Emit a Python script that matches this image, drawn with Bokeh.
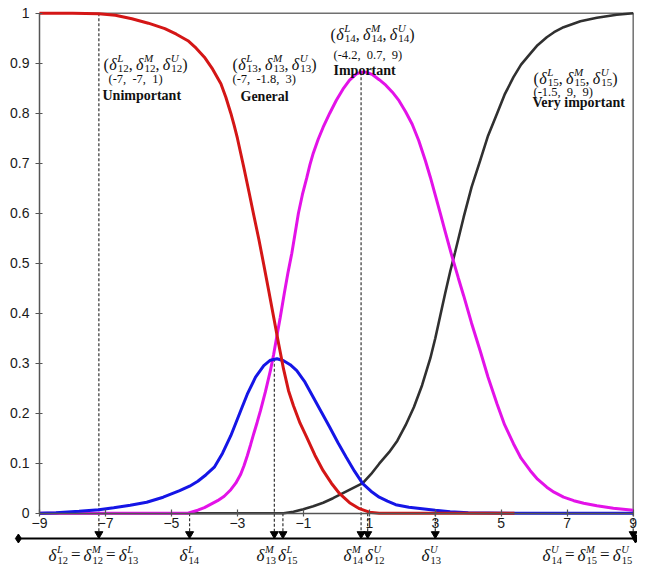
from bokeh.plotting import figure
from bokeh.models import LinearAxis, FixedTicker
from bokeh.core.properties import value
from bokeh.embed import file_html
from bokeh.resources import INLINE

# ---------------- data ----------------
x_ticks = [-9, -7, -5, -3, -1, 1, 3, 5, 7, 9]
y_ticks = [0.0, 0.1, 0.2, 0.3, 0.4, 0.5, 0.6, 0.7, 0.8, 0.9, 1.0]
y_tick_labels = ["0", "0.1", "0.2", "0.3", "0.4", "0.5", "0.6", "0.7", "0.8", "0.9", "1"]

# Unimportant (-7, -7, 1)
red_x = [-9, -8, -7.2, -6.7, -6.2, -5.7, -5.2, -4.85, -4.5, -4.25, -4.0, -3.75, -3.5, -3.35,
         -3.2, -3.1, -3.0, -2.9, -2.8, -2.65, -2.5, -2.35, -2.2, -2.05, -1.9, -1.75, -1.6,
         -1.45, -1.3, -1.1, -0.9, -0.65, -0.4, -0.15, 0.1, 0.4, 0.7, 1.0, 1.3, 5.4]
red_y = [1.0, 1.0, 0.999, 0.996, 0.989, 0.980, 0.969, 0.958, 0.945, 0.930, 0.912, 0.888, 0.859, 0.832,
         0.80, 0.776, 0.75, 0.72, 0.69, 0.643, 0.595, 0.548, 0.497, 0.445, 0.392, 0.339, 0.288,
         0.245, 0.215, 0.180, 0.152, 0.116, 0.085, 0.060, 0.039, 0.021, 0.009, 0.002, 0.0, 0.0]

# General (-7, -1.8, 3)
blue_x = [-9, -8.5, -7.8, -7.2, -6.75, -6.25, -5.75, -5.25, -4.75, -4.45, -4.2, -3.95, -3.7,
          -3.45, -3.2, -3.05, -2.9, -2.7, -2.45, -2.2, -2.0, -1.8, -1.6, -1.4, -1.2, -0.95,
          -0.7, -0.45, -0.2, 0.05, 0.3, 0.55, 0.8, 1.05, 1.3, 1.55, 1.8, 2.2, 2.6, 3.0, 3.45,
          4.0, 5.4, 9]
blue_y = [0.0, 0.001, 0.004, 0.007, 0.011, 0.016, 0.022, 0.032, 0.045, 0.054, 0.064, 0.077, 0.092,
          0.12, 0.155, 0.18, 0.205, 0.238, 0.272, 0.295, 0.306, 0.309, 0.305, 0.297, 0.285, 0.262,
          0.232, 0.202, 0.172, 0.141, 0.112, 0.084, 0.059, 0.044, 0.032, 0.024, 0.017, 0.012, 0.009,
          0.006, 0.003, 0.001, 0.0, 0.0]

# Important (-4.2, 0.7, 9)
mag_x = [-9, -4.5, -4.2, -4.0, -3.8, -3.6, -3.4, -3.2, -3.05, -2.9, -2.8, -2.7, -2.6, -2.5,
         -2.4, -2.3, -2.15, -2.0, -1.9, -1.82, -1.7, -1.58, -1.47, -1.35, -1.25, -1.15, -1.03,
         -0.9, -0.8, -0.7, -0.55, -0.4, -0.2, 0.0, 0.2, 0.4, 0.6, 0.75, 0.9, 1.1, 1.3, 1.5,
         1.7, 1.9, 2.1, 2.3, 2.5, 2.7, 2.85, 3.0, 3.15, 3.3, 3.5, 3.7, 3.86, 4.1, 4.36, 4.6,
         4.87, 5.1, 5.37, 5.6, 5.88, 6.1, 6.38, 6.6, 6.89, 7.2, 7.5, 7.9, 8.4, 9]
mag_y = [0.0, 0.0, 0.006, 0.011, 0.018, 0.025, 0.034, 0.047, 0.06, 0.078, 0.095, 0.115, 0.137, 0.16,
         0.182, 0.205, 0.243, 0.285, 0.318, 0.348, 0.392, 0.439, 0.48, 0.52, 0.56, 0.60, 0.637,
         0.67, 0.697, 0.72, 0.748, 0.772, 0.80, 0.826, 0.848, 0.866, 0.878, 0.882, 0.882, 0.877,
         0.867, 0.856, 0.842, 0.825, 0.803, 0.778, 0.745, 0.705, 0.672, 0.636, 0.60, 0.563, 0.515,
         0.47, 0.435, 0.38, 0.325, 0.272, 0.219, 0.177, 0.139, 0.11, 0.085, 0.068, 0.052, 0.042,
         0.032, 0.025, 0.02, 0.015, 0.01, 0.006]

# Very important (-1.5, 9, 9)
blk_x = [-9, -1.6, -1.3, -1.0, -0.7, -0.4, -0.1, 0.2, 0.5, 0.8, 1.05, 1.3, 1.6, 1.85, 2.1,
         2.35, 2.6, 2.85, 3.0, 3.15, 3.3, 3.45, 3.6, 3.86, 4.1, 4.36, 4.6, 4.87, 5.1, 5.37,
         5.6, 5.88, 6.1, 6.38, 6.6, 6.89, 7.4, 7.9, 8.5, 9]
blk_y = [0.0, 0.0, 0.003, 0.008, 0.014, 0.021, 0.03, 0.04, 0.05, 0.06, 0.078, 0.099, 0.122, 0.145,
         0.176, 0.212, 0.256, 0.31, 0.35, 0.395, 0.44, 0.483, 0.522, 0.592, 0.652, 0.705, 0.755,
         0.799, 0.837, 0.872, 0.897, 0.919, 0.936, 0.952, 0.962, 0.972, 0.984, 0.991, 0.997, 1.0]

# marked delta positions on the lower scale
mark_x = [-7.2, -4.45, -1.88, -1.62, 0.75, 0.95, 3.0, 9.0]
mark_top = [1.0, 0.0, 0.309, 0.0, 0.882, 0.0, 0.0, 0.0]
scale_ends = [-9.64, 9.07]

# ---------------- layout helpers ----------------
W, H = 637, 569
PXU = 32.983          # pixels per x unit
PYU = 500.0           # pixels per y unit
X0 = -9 - 39 / PXU
X1 = X0 + W / PXU
Y1 = 1 + 12.7 / PYU
Y0 = Y1 - H / PYU


def X(px):  # pixel -> data x
    return X0 + px / PXU


def Y(py):  # pixel -> data y
    return Y1 - py / PYU


SERIF = "Liberation Serif"
SANS = "Liberation Sans"

p = figure(width=W, height=H, x_range=(X0, X1), y_range=(Y0, Y1),
           output_backend="svg", toolbar_location=None,
           x_axis_location=None, y_axis_location=None,
           min_border=0, min_border_left=0, min_border_right=0,
           min_border_top=0, min_border_bottom=0)
p.outline_line_color = None
p.grid.visible = False
p.background_fill_color = "white"

# plot box (top and right borders)
p.line(x=[-9, 9, 9], y=[1, 1, 0], line_color="#707070", line_width=1.5)

xaxis = LinearAxis(fixed_location=0, ticker=FixedTicker(ticks=x_ticks), bounds=(-9, 9))
yaxis = LinearAxis(fixed_location=-9, ticker=FixedTicker(ticks=y_ticks), bounds=(0, 1))
yaxis.major_label_overrides = {t: s for t, s in zip(y_ticks, y_tick_labels)}
for ax in (xaxis, yaxis):
    ax.axis_line_color = "#555555"
    ax.axis_line_width = 1.5
    ax.major_tick_line_color = "#555555"
    ax.major_tick_line_width = 1.2
    ax.minor_tick_line_color = None
    ax.major_label_text_font = SANS
    ax.major_label_text_font_size = "14px"
    ax.major_label_text_color = "#1a1a1a"
xaxis.major_tick_in = 4
xaxis.major_tick_out = 3
xaxis.major_label_standoff = 2
yaxis.major_tick_in = 3
yaxis.major_tick_out = 4
yaxis.major_label_standoff = 6
p.add_layout(xaxis, "below")
p.add_layout(yaxis, "left")

# lower scale geometry
scale_y = Y(538)
arrow_y = Y(533.5)

# dashed marker lines
p.segment(x0=mark_x, y0=mark_top, x1=mark_x, y1=[Y(531)] * len(mark_x),
          line_color="#333333", line_width=1.2, line_dash="3 2")

# curves
lw = 3
p.line(blk_x, blk_y, line_color="#303030", line_width=2.6)
p.line(mag_x, mag_y, line_color="#e312e8", line_width=lw)
p.line(blue_x, blue_y, line_color="#1515e6", line_width=lw)
p.line(red_x, red_y, line_color="#d41616", line_width=lw)

# lower scale
p.line(x=scale_ends, y=[scale_y, scale_y], line_color="black", line_width=2)
p.scatter(x=scale_ends, y=[scale_y, scale_y], marker="diamond", size=9, color="black")
p.scatter(x=mark_x, y=[arrow_y] * len(mark_x), marker="inverted_triangle", size=8, color="black")

# ---------------- texts ----------------
texts = {}


def put(px, py, s, font=SERIF, style="normal", size=12):
    d = texts.setdefault((font, style, size), {"x": [], "y": [], "text": []})
    d["x"].append(X(px))
    d["y"].append(Y(py))
    d["text"].append(s)


SUP_W = {"L": 0.556, "M": 0.833, "U": 0.722}


def term(px, py, sub, sup, size, ssize, up=0.40, down=0.30):
    put(px, py, "δ", style="italic", size=size)
    sx = px + 0.50 * size
    put(sx, py - up * size, sup, style="italic", size=ssize)
    put(sx + 0.5, py + down * size, sub, size=ssize)
    return sx + max(0.5 * ssize * len(sub), SUP_W[sup] * ssize) + 0.5


def tuple_label(px, py, idx, size=16, ssize=11):
    put(px, py, "(", size=size)
    x = px + 0.36 * size
    for k, sup in enumerate(["L", "M", "U"]):
        x = term(x, py, idx, sup, size, ssize)
        if k < 2:
            put(x, py, ",", size=size)
            x += 0.45 * size
    put(x, py, ")", size=size)


def chain(px, py, parts, size, ssize, eq=True):
    x = px
    for k, (sub, sup) in enumerate(parts):
        x = term(x, py, sub, sup, size, ssize, up=0.38, down=0.30)
        if k < len(parts) - 1:
            if eq:
                x += 3
                put(x, py - 1, "=", size=size)
                x += 0.564 * size + 3
            else:
                x += 2


NB = "\u00a0"
# upper annotations: (delta tuple, numeric tuple, linguistic term)
tuple_label(103, 63.5, "12")
put(108, 78.5, f"(-7,{NB} -7,{NB} 1)", size=12.5)
put(102, 95, "Unimportant", style="bold", size=14)

tuple_label(232, 63.5, "13")
put(232, 78.5, f"(-7,{NB} -1.8,{NB} 3)", size=12.5)
put(240, 95.5, "General", style="bold", size=14)

tuple_label(330, 33.5, "14")
put(333, 54, f"(-4.2,{NB} 0.7,{NB} 9)", size=12.5)
put(333, 69.5, "Important", style="bold", size=14)

tuple_label(533, 77.5, "15")
put(533, 91, f"(-1.5,{NB} 9,{NB} 9)", size=12.5)
put(532, 101.5, "Very important", style="bold", size=14)

# lower scale labels
BY = 555
BS, BSS = 17, 10.5
chain(48, BY, [("12", "L"), ("12", "M"), ("13", "L")], BS, BSS)
chain(179, BY, [("14", "L")], BS, BSS)
chain(256, BY, [("13", "M"), ("15", "L")], BS, BSS, eq=False)
chain(343, BY, [("14", "M"), ("12", "U")], BS, BSS, eq=False)
chain(421, BY, [("13", "U")], BS, BSS)
chain(542, BY, [("14", "U"), ("15", "M"), ("15", "U")], BS, BSS)

for (font, style, size), d in texts.items():
    p.text(x=d["x"], y=d["y"], text=d["text"], text_font=value(font),
           text_font_style=style, text_font_size=f"{size}px",
           text_baseline="alphabetic", text_align="left", text_color="#111111")

open("out.html", "w").write(file_html(p, INLINE))
